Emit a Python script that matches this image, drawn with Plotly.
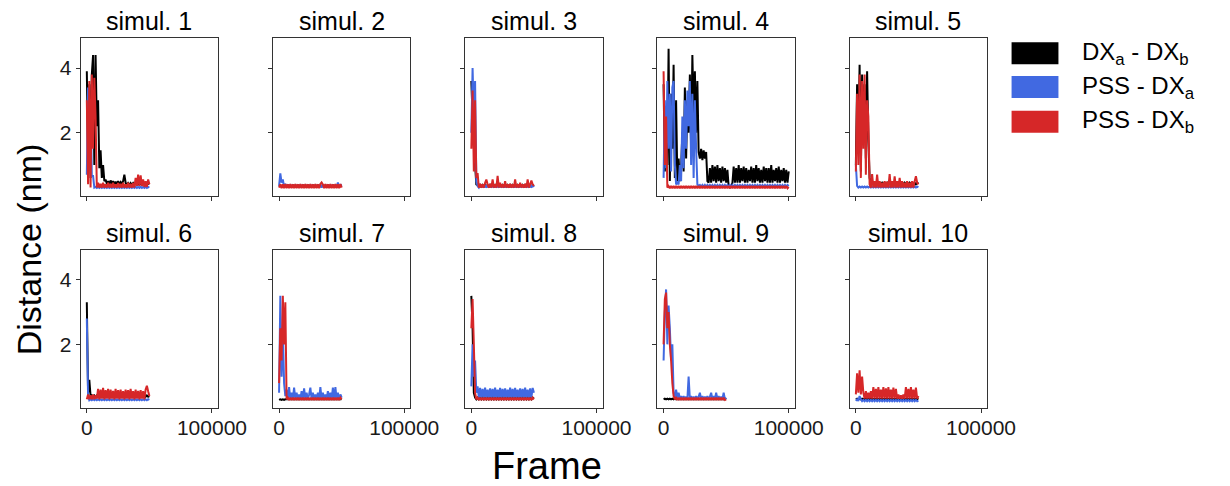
import plotly.graph_objects as go

# ---------------- data (frame grid step = 1000) ----------------
FRAME_STEP = 1000
FRAMES = list(range(0, 100001, FRAME_STEP))

SIM_TITLES = ["simul. 1", "simul. 2", "simul. 3", "simul. 4", "simul. 5",
              "simul. 6", "simul. 7", "simul. 8", "simul. 9", "simul. 10"]
SERIES_NAMES = ["DX<sub>a</sub> - DX<sub>b</sub>", "PSS - DX<sub>a</sub>", "PSS - DX<sub>b</sub>"]
SERIES_COLORS = ["#000000", "#4169e1", "#d62728"]
X_TICKS = [0, 100000]
Y_TICKS = [2, 4]

# simul. 1
s1_dx = [3.9, 1.2, 3.5, 0.6, 3.8, 4.4, 1.0, 4.4, 2.2, 3.0, 0.9, 1.45, 0.6, 1.0, 0.5, 0.55, 0.42, 0.5, 0.4, 0.52,
         0.42, 0.5, 0.4, 0.48, 0.41, 0.5, 0.4, 0.47, 0.42, 0.5, 0.7, 0.45, 0.38, 0.44, 0.38, 0.44, 0.38, 0.44, 0.38, 0.44,
         0.38, 0.44, 0.38, 0.44, 0.38, 0.44, 0.38, 0.44, 0.38, 0.44, 0.4]
s1_pa = [0.7, 3.4, 1.0, 3.0, 0.66, 0.66, 0.3, 0.32, 0.29, 0.32, 0.29, 0.32, 0.29, 0.32, 0.29, 0.32, 0.29, 0.32, 0.29, 0.32,
         0.29, 0.32, 0.29, 0.32, 0.29, 0.32, 0.29, 0.32, 0.29, 0.32, 0.29, 0.32, 0.29, 0.32, 0.29, 0.32, 0.29, 0.32, 0.29, 0.32,
         0.29, 0.32, 0.29, 0.32, 0.29, 0.32, 0.29, 0.32, 0.29, 0.32, 0.3]
s1_pb = [3.0, 0.4, 3.6, 0.3, 3.8, 1.5, 3.7, 2.5, 0.3, 0.45, 0.3, 0.42, 0.3, 0.45, 0.3, 0.4, 0.3, 0.45, 0.3, 0.42,
         0.3, 0.45, 0.3, 0.4, 0.3, 0.44, 0.3, 0.42, 0.3, 0.45, 0.3, 0.4, 0.3, 0.45, 0.3, 0.42, 0.3, 0.44, 0.3, 0.6,
         0.35, 0.7, 0.35, 0.68, 0.35, 0.55, 0.32, 0.5, 0.32, 0.55, 0.4]

# simul. 2
s2_dx = [0.33, 0.37, 0.33, 0.37, 0.33, 0.37, 0.33, 0.37, 0.33, 0.37, 0.33, 0.37, 0.33, 0.37, 0.33, 0.37, 0.33, 0.37, 0.33, 0.37,
         0.33, 0.37, 0.33, 0.37, 0.33, 0.37, 0.33, 0.37, 0.33, 0.37, 0.33, 0.37, 0.33, 0.37, 0.33, 0.37, 0.33, 0.37, 0.33, 0.37,
         0.33, 0.37, 0.33, 0.37, 0.33, 0.37, 0.33, 0.37, 0.33, 0.37, 0.35]
s2_pa = [0.35, 0.74, 0.45, 0.55, 0.33, 0.42, 0.3, 0.4, 0.3, 0.38, 0.3, 0.4, 0.3, 0.38, 0.3, 0.4, 0.3, 0.38, 0.3, 0.4,
         0.3, 0.38, 0.3, 0.4, 0.3, 0.38, 0.3, 0.4, 0.3, 0.38, 0.3, 0.4, 0.3, 0.38, 0.3, 0.4, 0.3, 0.38, 0.3, 0.4,
         0.3, 0.38, 0.3, 0.4, 0.3, 0.38, 0.3, 0.46, 0.3, 0.4, 0.33]
s2_pb = [0.3, 0.4, 0.28, 0.4, 0.28, 0.41, 0.28, 0.4, 0.28, 0.41, 0.28, 0.4, 0.28, 0.41, 0.28, 0.4, 0.28, 0.41, 0.28, 0.4,
         0.28, 0.41, 0.28, 0.4, 0.28, 0.41, 0.28, 0.4, 0.28, 0.41, 0.28, 0.4, 0.28, 0.41, 0.46, 0.4, 0.28, 0.41, 0.28, 0.4,
         0.28, 0.41, 0.28, 0.4, 0.28, 0.41, 0.28, 0.4, 0.28, 0.41, 0.3]

# simul. 3
s3_dx = [3.6, 2.5, 3.3, 1.0, 0.4, 0.38, 0.33, 0.38, 0.33, 0.38, 0.33, 0.38, 0.33, 0.38, 0.33, 0.38, 0.33, 0.38, 0.33, 0.38,
         0.33, 0.38, 0.33, 0.38, 0.33, 0.38, 0.33, 0.38, 0.33, 0.38, 0.33, 0.38, 0.33, 0.38, 0.33, 0.38, 0.33, 0.38, 0.33, 0.38,
         0.33, 0.38, 0.33, 0.38, 0.33, 0.38, 0.33, 0.38, 0.33, 0.38, 0.35]
s3_pa = [2.0, 4.0, 2.5, 3.6, 0.5, 0.35, 0.3, 0.38, 0.3, 0.38, 0.3, 0.38, 0.3, 0.38, 0.3, 0.38, 0.3, 0.38, 0.3, 0.38,
         0.3, 0.38, 0.3, 0.38, 0.3, 0.38, 0.3, 0.38, 0.3, 0.38, 0.3, 0.38, 0.3, 0.38, 0.3, 0.38, 0.3, 0.38, 0.3, 0.38,
         0.3, 0.38, 0.3, 0.38, 0.3, 0.38, 0.3, 0.38, 0.3, 0.38, 0.32]
s3_pb = [1.5, 3.3, 0.8, 3.0, 0.6, 0.75, 0.3, 0.42, 0.3, 0.4, 0.3, 0.45, 0.55, 0.4, 0.3, 0.42, 0.3, 0.55, 0.3, 0.4,
         0.3, 0.66, 0.3, 0.45, 0.3, 0.4, 0.3, 0.5, 0.3, 0.4, 0.3, 0.42, 0.3, 0.4, 0.3, 0.55, 0.3, 0.4, 0.3, 0.45,
         0.3, 0.4, 0.3, 0.42, 0.3, 0.55, 0.3, 0.4, 0.52, 0.4, 0.35]

# simul. 4 (100000 frames)
s4_dx = [3.5, 0.8, 2.8, 1.0, 4.6, 0.5, 3.2, 1.5, 4.1, 0.6, 3.0, 0.5, 1.2, 0.5, 0.9, 2.0, 0.8, 3.4, 1.2, 3.0,
         2.0, 3.8, 1.5, 4.4, 2.6, 3.9, 2.0, 3.6, 1.4, 1.2, 1.5, 1.15, 1.45, 1.2, 1.4, 0.5, 0.45, 0.9, 0.45, 1.0,
         0.5, 0.95, 0.45, 1.0, 0.5, 0.9, 0.45, 0.95, 0.5, 0.9, 0.45, 0.85, 0.32, 0.3, 0.32, 0.45, 0.95, 0.45, 0.9, 0.45,
         1.0, 0.45, 0.9, 0.5, 0.95, 0.45, 0.9, 0.45, 0.85, 0.5, 0.95, 0.45, 0.9, 0.45, 1.0, 0.5, 0.9, 0.45, 0.85, 0.45,
         0.95, 0.5, 0.9, 0.45, 0.9, 0.45, 1.0, 0.45, 0.85, 0.5, 0.9, 0.45, 0.95, 0.45, 0.85, 0.5, 0.9, 0.45, 0.85, 0.45,
         0.8]
s4_pa = [0.6, 3.0, 0.9, 3.6, 1.5, 3.2, 0.8, 3.4, 3.6, 1.0, 0.4, 0.45, 0.4, 1.0, 0.5, 2.5, 0.9, 3.0, 1.5, 3.3,
         2.2, 3.6, 1.0, 3.2, 0.6, 3.0, 1.5, 0.4, 0.35, 0.38, 0.33, 0.38, 0.33, 0.38, 0.33, 0.38, 0.33, 0.38, 0.33, 0.38,
         0.33, 0.38, 0.33, 0.38, 0.33, 0.38, 0.33, 0.38, 0.33, 0.38, 0.33, 0.38, 0.33, 0.38, 0.33, 0.38, 0.33, 0.38, 0.33, 0.38,
         0.33, 0.38, 0.33, 0.38, 0.33, 0.38, 0.33, 0.38, 0.33, 0.38, 0.33, 0.38, 0.33, 0.38, 0.33, 0.38, 0.33, 0.38, 0.33, 0.38,
         0.33, 0.38, 0.33, 0.38, 0.33, 0.38, 0.33, 0.38, 0.33, 0.38, 0.33, 0.38, 0.33, 0.38, 0.33, 0.38, 0.33, 0.38, 0.33, 0.38,
         0.35]
s4_pb = [3.9, 1.0, 2.5, 0.3, 0.35, 0.28, 0.35, 0.28, 0.35, 0.28, 0.35, 0.28, 0.35, 0.28, 0.35, 0.28, 0.35, 0.28, 0.35, 0.28,
         0.35, 0.28, 0.35, 0.28, 0.35, 0.28, 0.35, 0.28, 0.35, 0.28, 0.35, 0.28, 0.35, 0.28, 0.35, 0.28, 0.35, 0.28, 0.35, 0.28,
         0.35, 0.28, 0.35, 0.28, 0.35, 0.28, 0.35, 0.28, 0.35, 0.28, 0.35, 0.28, 0.35, 0.28, 0.35, 0.28, 0.35, 0.28, 0.35, 0.28,
         0.35, 0.28, 0.35, 0.28, 0.35, 0.28, 0.35, 0.28, 0.35, 0.28, 0.35, 0.28, 0.35, 0.28, 0.35, 0.28, 0.35, 0.28, 0.35, 0.28,
         0.35, 0.28, 0.35, 0.28, 0.35, 0.28, 0.35, 0.28, 0.35, 0.28, 0.35, 0.28, 0.35, 0.28, 0.35, 0.28, 0.35, 0.28, 0.35, 0.28,
         0.32]

# simul. 5
s5_dx = [1.0, 3.5, 1.5, 4.1, 0.8, 3.8, 2.0, 3.5, 1.2, 3.9, 1.8, 0.6, 0.4, 0.45, 0.4, 0.45, 0.4, 0.45, 0.4, 0.45,
         0.4, 0.45, 0.4, 0.45, 0.4, 0.45, 0.4, 0.45, 0.4, 0.45, 0.4, 0.45, 0.4, 0.45, 0.4, 0.45, 0.4, 0.45, 0.4, 0.45,
         0.4, 0.45, 0.4, 0.45, 0.4, 0.45, 0.4, 0.45, 0.4, 0.45, 0.42]
s5_pa = [1.0, 0.35, 0.3, 0.33, 0.3, 0.33, 0.3, 0.33, 0.3, 0.33, 0.3, 0.33, 0.3, 0.33, 0.3, 0.33, 0.3, 0.33, 0.3, 0.33,
         0.3, 0.33, 0.3, 0.33, 0.3, 0.33, 0.3, 0.33, 0.3, 0.33, 0.3, 0.33, 0.3, 0.33, 0.3, 0.33, 0.3, 0.33, 0.3, 0.33,
         0.3, 0.33, 0.3, 0.33, 0.3, 0.33, 0.3, 0.33, 0.3, 0.33, 0.31]
s5_pb = [0.8, 3.2, 1.0, 3.8, 0.6, 3.6, 1.5, 3.8, 0.7, 3.0, 2.5, 0.4, 0.3, 0.72, 0.3, 0.5, 0.3, 0.7, 0.3, 0.5,
         0.3, 0.45, 0.3, 0.5, 0.3, 0.48, 0.3, 0.72, 0.3, 0.5, 0.3, 0.65, 0.3, 0.5, 0.3, 0.6, 0.3, 0.5, 0.3, 0.45,
         0.3, 0.5, 0.3, 0.45, 0.3, 0.5, 0.3, 0.5, 0.65, 0.45, 0.4]

# simul. 6
s6_dx = [3.3, 0.5, 0.9, 0.4, 0.42, 0.38, 0.42, 0.38, 0.42, 0.38, 0.42, 0.38, 0.42, 0.38, 0.42, 0.38, 0.42, 0.38, 0.42, 0.38,
         0.42, 0.38, 0.42, 0.38, 0.42, 0.38, 0.42, 0.38, 0.42, 0.38, 0.42, 0.38, 0.42, 0.38, 0.42, 0.38, 0.42, 0.38, 0.42, 0.38,
         0.42, 0.38, 0.42, 0.38, 0.42, 0.38, 0.42, 0.38, 0.42, 0.38, 0.4]
s6_pa = [2.8, 0.4, 0.27, 0.3, 0.27, 0.3, 0.27, 0.3, 0.27, 0.3, 0.27, 0.3, 0.27, 0.3, 0.27, 0.3, 0.27, 0.3, 0.27, 0.3,
         0.27, 0.3, 0.27, 0.3, 0.27, 0.3, 0.27, 0.3, 0.27, 0.3, 0.27, 0.3, 0.27, 0.3, 0.27, 0.3, 0.27, 0.3, 0.27, 0.3,
         0.27, 0.3, 0.27, 0.3, 0.27, 0.3, 0.27, 0.3, 0.27, 0.3, 0.28]
s6_pb = [0.3, 0.45, 0.3, 0.42, 0.3, 0.45, 0.3, 0.42, 0.32, 0.62, 0.3, 0.6, 0.32, 0.65, 0.3, 0.58, 0.32, 0.62, 0.3, 0.6,
         0.32, 0.56, 0.3, 0.62, 0.32, 0.58, 0.3, 0.6, 0.32, 0.55, 0.3, 0.6, 0.32, 0.58, 0.3, 0.62, 0.32, 0.55, 0.3, 0.6,
         0.32, 0.56, 0.3, 0.58, 0.32, 0.55, 0.3, 0.6, 0.72, 0.55, 0.4]

# simul. 7
s7_dx = [0.28, 0.3, 0.28, 0.3, 0.28, 0.3, 0.3, 0.31, 0.3, 0.31, 0.3, 0.31, 0.3, 0.31, 0.3, 0.31, 0.3, 0.31, 0.3, 0.31,
         0.3, 0.31, 0.3, 0.31, 0.3, 0.31, 0.3, 0.31, 0.3, 0.31, 0.3, 0.31, 0.3, 0.31, 0.3, 0.31, 0.3, 0.31, 0.3, 0.31,
         0.3, 0.31, 0.3, 0.31, 0.3, 0.31, 0.3, 0.31, 0.3, 0.31, 0.3]
s7_pa = [0.5, 3.5, 1.0, 2.5, 0.8, 0.4, 0.6, 0.3, 0.68, 0.3, 0.5, 0.3, 0.66, 0.3, 0.5, 0.3, 0.45, 0.3, 0.55, 0.3,
         0.64, 0.3, 0.5, 0.3, 0.45, 0.66, 0.3, 0.5, 0.3, 0.45, 0.3, 0.5, 0.3, 0.68, 0.3, 0.5, 0.3, 0.45, 0.3, 0.55,
         0.3, 0.5, 0.3, 0.66, 0.3, 0.68, 0.3, 0.5, 0.3, 0.45, 0.35]
s7_pb = [0.8, 2.5, 1.5, 3.5, 2.0, 3.3, 0.3, 0.35, 0.28, 0.35, 0.28, 0.35, 0.28, 0.35, 0.28, 0.35, 0.28, 0.35, 0.28, 0.35,
         0.28, 0.35, 0.28, 0.35, 0.28, 0.35, 0.28, 0.35, 0.28, 0.35, 0.28, 0.35, 0.28, 0.35, 0.28, 0.35, 0.28, 0.35, 0.28, 0.35,
         0.28, 0.35, 0.28, 0.35, 0.28, 0.35, 0.28, 0.35, 0.28, 0.35, 0.3]

# simul. 8
s8_dx = [3.5, 2.5, 0.5, 0.35, 0.3, 0.35, 0.3, 0.35, 0.3, 0.35, 0.3, 0.35, 0.3, 0.35, 0.3, 0.35, 0.3, 0.35, 0.3, 0.35,
         0.3, 0.35, 0.3, 0.35, 0.3, 0.35, 0.3, 0.35, 0.3, 0.35, 0.3, 0.35, 0.3, 0.35, 0.3, 0.35, 0.3, 0.35, 0.3, 0.35,
         0.3, 0.35, 0.3, 0.35, 0.3, 0.35, 0.3, 0.35, 0.3, 0.35, 0.32]
s8_pa = [0.7, 2.0, 1.0, 1.5, 0.5, 0.7, 0.35, 0.65, 0.35, 0.62, 0.35, 0.66, 0.35, 0.6, 0.35, 0.64, 0.35, 0.62, 0.35, 0.66,
         0.35, 0.6, 0.35, 0.65, 0.35, 0.62, 0.35, 0.64, 0.35, 0.6, 0.35, 0.66, 0.35, 0.62, 0.35, 0.65, 0.35, 0.6, 0.35, 0.64,
         0.35, 0.62, 0.35, 0.66, 0.35, 0.6, 0.35, 0.64, 0.35, 0.65, 0.5]
s8_pb = [2.5, 3.4, 2.0, 0.5, 0.3, 0.35, 0.28, 0.35, 0.28, 0.35, 0.28, 0.35, 0.28, 0.35, 0.28, 0.35, 0.28, 0.35, 0.28, 0.35,
         0.28, 0.35, 0.28, 0.35, 0.28, 0.35, 0.28, 0.35, 0.28, 0.35, 0.28, 0.35, 0.28, 0.35, 0.28, 0.35, 0.28, 0.35, 0.28, 0.35,
         0.28, 0.35, 0.28, 0.35, 0.28, 0.35, 0.28, 0.35, 0.28, 0.35, 0.3]

# simul. 9
s9_dx = [0.3, 0.32, 0.3, 0.32, 0.3, 0.32, 0.3, 0.32, 0.3, 0.32, 0.3, 0.32, 0.3, 0.32, 0.3, 0.32, 0.3, 0.32, 0.3, 0.32,
         0.3, 0.32, 0.3, 0.32, 0.3, 0.32, 0.3, 0.32, 0.3, 0.32, 0.3, 0.32, 0.3, 0.32, 0.3, 0.32, 0.3, 0.32, 0.3, 0.32,
         0.3, 0.32, 0.3, 0.32, 0.3, 0.32, 0.3, 0.32, 0.3, 0.32, 0.3]
s9_pa = [1.5, 3.0, 3.7, 2.0, 3.2, 2.5, 1.5, 2.0, 0.5, 0.35, 0.6, 0.35, 0.5, 0.33, 0.4, 0.3, 0.4, 0.3, 0.38, 0.3,
         1.0, 0.3, 0.4, 0.3, 0.38, 0.3, 0.4, 0.3, 0.38, 0.5, 0.3, 0.4, 0.3, 0.38, 0.3, 0.4, 0.3, 0.38, 0.5, 0.3,
         0.4, 0.3, 0.5, 0.3, 0.4, 0.3, 0.38, 0.3, 0.5, 0.3, 0.35]
s9_pb = [2.0, 3.4, 3.6, 2.5, 3.0, 2.0, 1.5, 0.8, 0.4, 0.3, 0.35, 0.28, 0.35, 0.28, 0.35, 0.28, 0.35, 0.28, 0.35, 0.28,
         0.35, 0.28, 0.35, 0.28, 0.35, 0.28, 0.35, 0.28, 0.35, 0.28, 0.35, 0.28, 0.35, 0.28, 0.35, 0.28, 0.35, 0.28, 0.35, 0.28,
         0.35, 0.28, 0.35, 0.28, 0.35, 0.28, 0.35, 0.28, 0.35, 0.28, 0.3]

# simul. 10
s10_dx = [0.3, 0.32, 0.3, 0.32, 0.3, 0.32, 0.3, 0.32, 0.3, 0.32, 0.3, 0.32, 0.3, 0.32, 0.3, 0.32, 0.3, 0.32, 0.3, 0.32,
          0.3, 0.32, 0.3, 0.32, 0.3, 0.32, 0.3, 0.32, 0.3, 0.32, 0.3, 0.32, 0.3, 0.32, 0.3, 0.32, 0.3, 0.32, 0.3, 0.32,
          0.3, 0.32, 0.3, 0.32, 0.3, 0.32, 0.3, 0.32, 0.3, 0.32, 0.3]
s10_pa = [0.25, 0.3, 0.25, 0.4, 0.3, 0.24, 0.28, 0.24, 0.28, 0.24, 0.28, 0.24, 0.28, 0.24, 0.28, 0.24, 0.28, 0.24, 0.28, 0.24,
          0.28, 0.24, 0.28, 0.24, 0.28, 0.24, 0.28, 0.24, 0.28, 0.24, 0.28, 0.24, 0.28, 0.24, 0.28, 0.24, 0.28, 0.24, 0.28, 0.24,
          0.28, 0.24, 0.28, 0.24, 0.28, 0.24, 0.28, 0.24, 0.28, 0.24, 0.26]
s10_pb = [0.45, 1.1, 0.5, 1.2, 0.45, 1.0, 0.5, 0.32, 0.55, 0.32, 0.5, 0.32, 0.55, 0.32, 0.68, 0.32, 0.62, 0.32, 0.68, 0.32,
          0.6, 0.32, 0.68, 0.32, 0.64, 0.32, 0.68, 0.32, 0.6, 0.32, 0.66, 0.32, 0.62, 0.32, 0.45, 0.32, 0.42, 0.32, 0.45, 0.32,
          0.68, 0.32, 0.62, 0.32, 0.68, 0.32, 0.6, 0.32, 0.66, 0.32, 0.4]

SIM_DATA = [
    (s1_dx, s1_pa, s1_pb), (s2_dx, s2_pa, s2_pb), (s3_dx, s3_pa, s3_pb),
    (s4_dx, s4_pa, s4_pb), (s5_dx, s5_pa, s5_pb), (s6_dx, s6_pa, s6_pb),
    (s7_dx, s7_pa, s7_pb), (s8_dx, s8_pa, s8_pb), (s9_dx, s9_pa, s9_pb),
    (s10_dx, s10_pa, s10_pb),
]

# ---------------- layout geometry (pixels) ----------------
W, H = 1230, 486
FONT = "Liberation Sans, Arial, sans-serif"
COL_LEFT0, COL_STEP, PANEL_W = 82.5, 196.9, 141.0
ROW_TOPS = [38.3, 250.0]
PANEL_H = 158.0


def px_x(p):
    return p / W


def px_y(p):
    return 1 - p / H


fig = go.Figure()
layout_axes = {}
annotations = []

for k, (title, series) in enumerate(zip(SIM_TITLES, SIM_DATA)):
    r, c = divmod(k, 5)
    idx = k + 1
    xa = "x" if idx == 1 else f"x{idx}"
    ya = "y" if idx == 1 else f"y{idx}"
    left = COL_LEFT0 + COL_STEP * c
    top = ROW_TOPS[r]
    for name, color, vals in zip(SERIES_NAMES, SERIES_COLORS, series):
        fig.add_trace(go.Scatter(
            x=FRAMES[:len(vals)], y=vals, mode="lines", name=name,
            line=dict(color=color, width=2.0, simplify=False),
            showlegend=False, xaxis=xa, yaxis=ya, hoverinfo="skip"))
    common = dict(showline=True, mirror=True, linecolor="#333333", linewidth=1,
                  ticks="outside", ticklen=4, tickwidth=1, tickcolor="#333333",
                  showgrid=False, zeroline=False,
                  tickfont=dict(family=FONT, size=21, color="#1a1a1a"))
    layout_axes["xaxis" if idx == 1 else f"xaxis{idx}"] = dict(
        domain=[px_x(left), px_x(left + PANEL_W)], range=[-5000, 105000],
        anchor=ya, tickvals=X_TICKS, ticktext=[str(v) for v in X_TICKS],
        showticklabels=(r == 1), ticklabelstandoff=-3, **common)
    layout_axes["yaxis" if idx == 1 else f"yaxis{idx}"] = dict(
        domain=[px_y(top + PANEL_H), px_y(top)], range=[0.03, 4.92],
        anchor=xa, tickvals=Y_TICKS, ticktext=[str(v) for v in Y_TICKS],
        showticklabels=(c == 0), **common)
    annotations.append(dict(
        text=title, x=px_x(left + PANEL_W / 2), y=px_y(top - 17),
        xref="paper", yref="paper", xanchor="center", yanchor="middle",
        showarrow=False, font=dict(family=FONT, size=25, color="#000000")))

# axis titles
annotations.append(dict(text="Distance (nm)", x=px_x(30), y=px_y(249), xref="paper", yref="paper",
                        xanchor="center", yanchor="middle", textangle=-90, showarrow=False,
                        font=dict(family=FONT, size=34, color="#000000")))
annotations.append(dict(text="Frame", x=px_x(560), y=px_y(466), xref="paper", yref="paper",
                        xanchor="center", yanchor="middle", showarrow=False,
                        font=dict(family=FONT, size=38, color="#000000")))

# legend drawn as patches + labels
shapes = []
LEG_CENTERS = [53.3, 87.0, 121.7]
for name, color, cy in zip(SERIES_NAMES, SERIES_COLORS, LEG_CENTERS):
    shapes.append(dict(type="rect", xref="paper", yref="paper",
                       x0=px_x(1036), x1=px_x(1084), y0=px_y(cy + 11), y1=px_y(cy - 11),
                       fillcolor=color, line=dict(width=0)))
    annotations.append(dict(text=name, x=px_x(1106), y=px_y(cy), xref="paper", yref="paper",
                            xanchor="left", yanchor="middle", showarrow=False,
                            font=dict(family=FONT, size=24, color="#000000")))

fig.update_layout(
    width=W, height=H, margin=dict(l=0, r=0, t=0, b=0),
    paper_bgcolor="white", plot_bgcolor="white",
    showlegend=False, annotations=annotations, shapes=shapes,
    **layout_axes)

fig.write_html("out.html", config={"displayModeBar": False})
